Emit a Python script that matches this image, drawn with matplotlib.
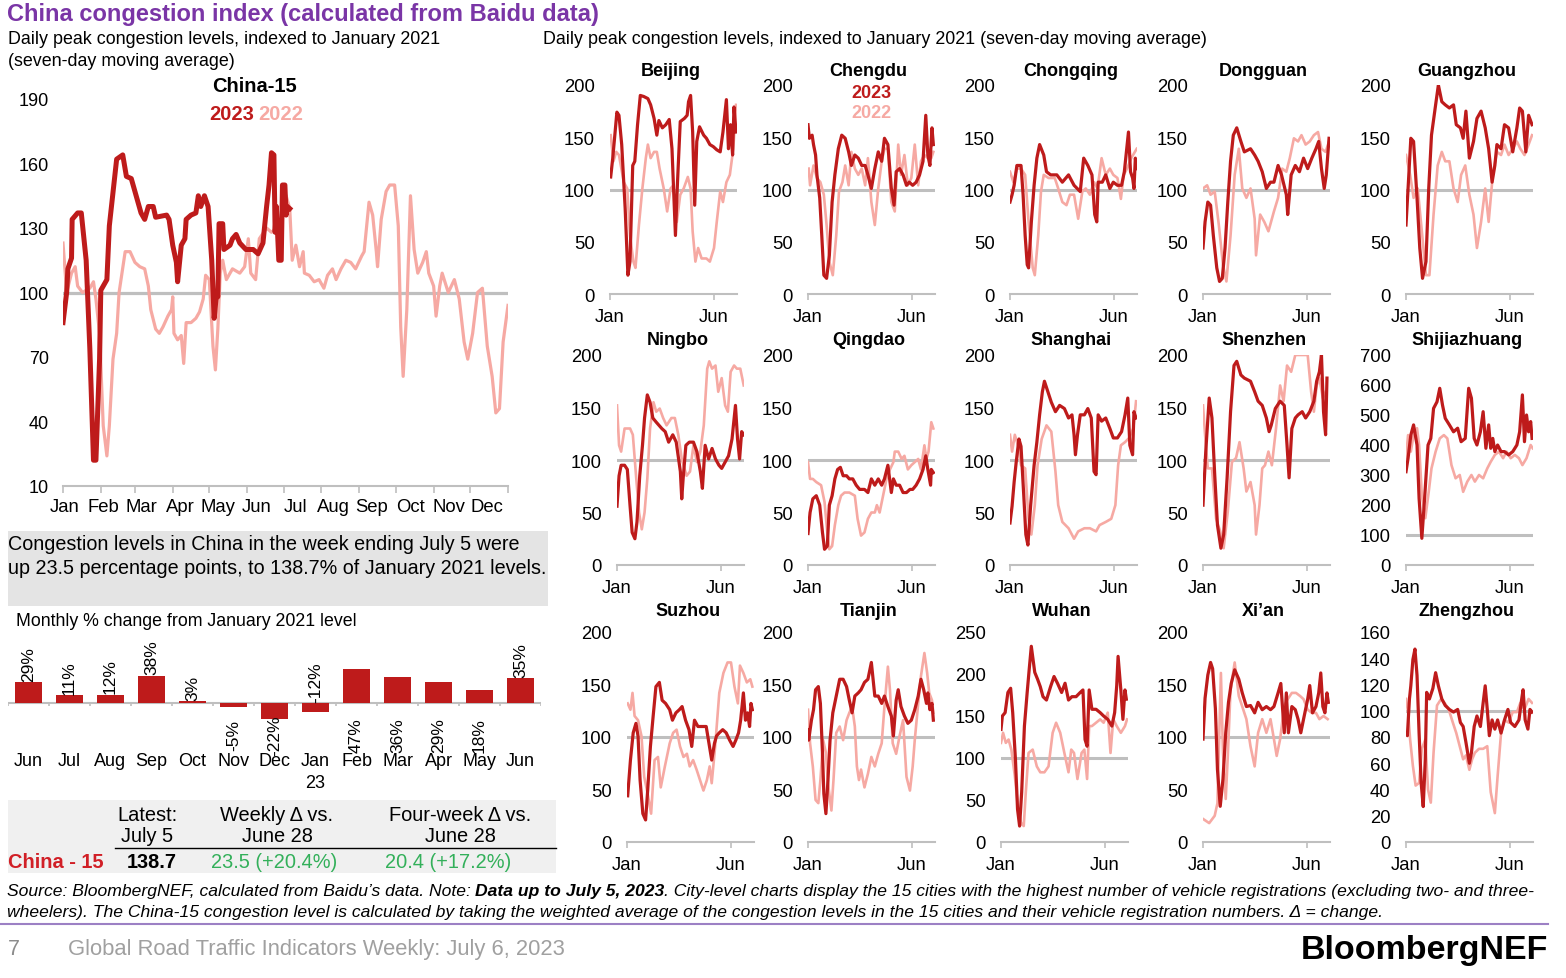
import numpy as np
import matplotlib.pyplot as plt
from matplotlib.patches import Rectangle
from matplotlib.lines import Line2D

plt.rcParams['font.family'] = ['Liberation Sans', 'DejaVu Sans']

DARK = '#BE1B1B'
PINK = '#F6A9A3'
GREY = '#BFBFBF'
PURPLE = '#7A35A6'
GREEN = '#33B05A'

W, H = 1566, 979

# ---------------- data: (day of year, index vs Jan 2021 = 100) ----------------
china15_2023 = [(0, 86), (3, 100), (4, 111), (7, 116), (7.5, 134), (12, 137), (15, 137), (19, 115), (22, 74),
                (25, 22), (27, 22), (30, 69), (31, 101), (36, 106), (38, 131), (44, 162), (49, 164), (52, 154),
                (56, 153), (60, 145), (64, 137), (67, 134), (70, 140), (74, 140), (76, 135), (85, 136), (87, 134),
                (90, 122), (93, 114), (94, 105), (97, 122), (100, 125), (101, 134), (105, 136), (109, 137),
                (111, 145), (113, 140), (116, 145), (119, 140), (122, 115), (124, 88), (126, 100), (127, 98),
                (128, 132), (131, 132), (132, 120), (137, 122), (139, 125), (142, 127), (145, 123), (150, 120),
                (156, 120), (160, 118), (164, 123), (167, 140), (169, 150), (171, 165), (173, 164), (174, 128),
                (175, 140), (177, 115), (179, 115), (180, 150), (182, 150), (183, 136), (184, 140), (186, 139)]
china15_2022 = [(0, 123), (3, 100), (7, 109), (10, 112), (12, 103), (16, 100), (22, 102), (25, 105), (27, 97),
                (30, 81), (33, 38), (36, 24), (38, 38), (41, 69), (44, 81), (46, 100), (51, 119), (55, 119),
                (59, 114), (63, 112), (67, 111), (70, 103), (72, 92), (76, 83), (79, 81), (82, 84), (86, 89),
                (89, 92), (90, 98), (91, 81), (94, 78), (97, 80), (99, 67), (101, 86), (105, 86), (109, 88),
                (112, 91), (115, 97), (117, 108), (120, 106), (123, 75), (125, 64), (127, 83), (129, 109),
                (131, 115), (134, 106), (139, 111), (145, 109), (149, 112), (152, 125), (154, 109), (158, 106),
                (161, 125), (167, 130), (171, 128), (175, 130), (179, 131), (183, 145), (186, 139), (188, 115),
                (191, 122), (194, 112), (197, 119), (198, 109), (202, 108), (206, 105), (210, 106), (214, 102),
                (217, 108), (221, 111), (224, 106), (228, 111), (232, 115), (236, 114), (240, 111), (245, 117),
                (247, 119), (251, 142), (254, 136), (257, 119), (258, 112), (261, 134), (265, 147), (268, 150),
                (272, 150), (275, 131), (277, 84), (279, 61), (282, 92), (285, 145), (288, 120), (291, 109),
                (295, 114), (298, 119), (300, 109), (304, 103), (306, 89), (309, 103), (311, 109), (316, 100),
                (321, 106), (325, 97), (329, 77), (332, 69), (336, 81), (340, 100), (344, 102), (348, 75),
                (352, 61), (355, 44), (358, 46), (361, 77), (365, 94)]

beijing_2023 = [(1, 112), (4, 130), (7, 152), (10, 174), (13, 171), (17, 143), (22, 82), (26, 18), (29, 31),
                (33, 123), (36, 127), (40, 162), (44, 190), (49, 189), (55, 187), (59, 181), (64, 168), (68, 152),
                (71, 166), (76, 159), (81, 162), (86, 167), (90, 139), (95, 56), (98, 107), (102, 165), (108, 168),
                (112, 171), (114, 184), (117, 190), (120, 155), (123, 85), (126, 146), (130, 160), (136, 152),
                (140, 149), (145, 143), (150, 141), (155, 138), (160, 136), (164, 155), (169, 186), (172, 139),
                (175, 162), (178, 133), (180, 179), (183, 155)]
beijing_2022 = [(1, 152), (5, 127), (9, 136), (13, 133), (20, 107), (25, 101), (29, 56), (34, 31), (37, 25),
                (42, 66), (47, 101), (52, 130), (55, 143), (59, 130), (64, 136), (68, 136), (72, 120), (78, 101),
                (83, 79), (88, 101), (92, 104), (97, 69), (102, 95), (107, 101), (113, 112), (117, 101), (120, 60),
                (124, 31), (128, 44), (133, 34), (140, 34), (145, 31), (151, 44), (155, 69), (160, 98), (164, 88),
                (169, 107), (174, 114), (179, 139), (183, 181)]

chengdu_2023 = [(0, 162), (2, 149), (6, 152), (8, 143), (11, 133), (13, 114), (17, 92), (20, 56), (23, 18),
                (27, 15), (31, 37), (35, 88), (39, 114), (44, 139), (49, 152), (54, 149), (59, 136), (63, 123),
                (68, 133), (73, 130), (78, 123), (83, 123), (87, 114), (92, 101), (97, 120), (102, 136), (107, 127),
                (111, 149), (116, 143), (121, 101), (125, 85), (128, 117), (133, 120), (138, 114), (143, 104),
                (147, 107), (152, 104), (157, 107), (162, 114), (167, 127), (171, 171), (174, 133), (177, 123),
                (180, 159), (182, 143)]
chengdu_2022 = [(1, 120), (3, 104), (8, 123), (13, 111), (18, 107), (23, 95), (27, 66), (31, 31), (36, 18),
                (41, 56), (45, 98), (50, 107), (54, 123), (59, 104), (63, 136), (68, 120), (73, 114), (78, 120),
                (83, 104), (87, 130), (92, 88), (97, 66), (102, 101), (107, 127), (111, 139), (116, 139), (121, 88),
                (126, 79), (131, 143), (135, 114), (140, 133), (145, 104), (150, 111), (155, 143), (160, 104),
                (164, 127), (169, 133), (174, 130), (179, 130), (182, 136)]

chongqing_2023 = [(0, 88), (3, 95), (6, 104), (10, 123), (16, 123), (19, 95), (22, 56), (25, 28), (27, 25),
                  (31, 69), (35, 104), (39, 130), (43, 143), (49, 133), (53, 117), (59, 114), (68, 114), (76, 107),
                  (85, 114), (93, 104), (102, 98), (107, 130), (113, 123), (119, 114), (123, 76), (126, 69),
                  (128, 107), (134, 107), (139, 114), (145, 101), (150, 107), (156, 104), (162, 104), (166, 117),
                  (172, 155), (175, 117), (178, 111), (180, 101), (182, 130), (184, 120)]
chongqing_2022 = [(0, 117), (5, 107), (10, 120), (16, 120), (22, 114), (27, 69), (33, 25), (36, 18), (41, 56),
                  (45, 98), (49, 114), (56, 111), (65, 111), (70, 101), (76, 88), (82, 85), (87, 95), (93, 95),
                  (99, 72), (105, 98), (110, 101), (116, 95), (122, 107), (127, 101), (133, 130), (139, 114),
                  (145, 120), (150, 114), (156, 111), (161, 91), (165, 114), (170, 120), (176, 130), (184, 139)]

dongguan_2023 = [(0, 44), (3, 69), (7, 88), (11, 85), (15, 56), (20, 25), (24, 12), (28, 15), (32, 44), (36, 88),
                 (40, 127), (44, 152), (49, 159), (55, 146), (60, 136), (69, 139), (75, 133), (80, 127), (86, 117),
                 (92, 101), (98, 107), (103, 107), (109, 123), (114, 114), (121, 95), (123, 76), (128, 114),
                 (134, 123), (140, 117), (146, 130), (152, 120), (158, 130), (164, 139), (168, 146), (172, 120),
                 (176, 101), (179, 114), (183, 149)]
dongguan_2022 = [(0, 101), (6, 104), (11, 95), (17, 98), (23, 66), (29, 28), (34, 12), (40, 56), (46, 114),
                 (52, 139), (57, 101), (63, 92), (69, 101), (75, 72), (77, 37), (83, 76), (89, 69), (95, 60),
                 (103, 79), (109, 92), (115, 120), (121, 117), (126, 130), (132, 149), (138, 146), (143, 152),
                 (149, 143), (155, 146), (161, 152), (167, 155), (172, 139), (178, 136), (183, 146)]

guangzhou_2023 = [(0, 66), (3, 101), (7, 149), (11, 146), (16, 92), (20, 44), (24, 15), (29, 31), (33, 101),
                  (37, 152), (43, 181), (47, 200), (52, 184), (57, 181), (63, 178), (69, 181), (73, 162), (79, 159),
                  (83, 149), (87, 175), (92, 130), (98, 146), (103, 168), (109, 175), (115, 159), (120, 139),
                  (125, 107), (129, 123), (132, 143), (138, 139), (143, 162), (149, 159), (155, 136), (161, 159),
                  (165, 178), (169, 175), (174, 136), (178, 171), (183, 162)]
guangzhou_2022 = [(0, 133), (6, 114), (11, 92), (17, 101), (23, 60), (29, 18), (34, 18), (40, 76), (46, 123),
                  (52, 136), (57, 127), (63, 127), (69, 101), (75, 88), (80, 114), (86, 123), (92, 95), (98, 76),
                  (103, 44), (109, 69), (115, 101), (120, 69), (126, 114), (132, 136), (138, 133), (143, 143),
                  (149, 133), (155, 139), (161, 146), (166, 139), (172, 133), (178, 143), (183, 152)]

ningbo_2023 = [(0, 56), (3, 85), (6, 95), (11, 95), (15, 91), (19, 56), (22, 31), (26, 25), (29, 41), (33, 85),
               (37, 114), (40, 140), (44, 162), (48, 155), (52, 140), (57, 136), (65, 130), (70, 127), (75, 117),
               (81, 124), (86, 117), (92, 89), (94, 63), (96, 82), (100, 114), (105, 117), (111, 117), (116, 108),
               (121, 89), (124, 73), (128, 114), (133, 101), (138, 111), (143, 101), (148, 95), (152, 92),
               (157, 98), (162, 104), (167, 120), (172, 152), (175, 120), (178, 101), (181, 127), (184, 124)]
ningbo_2022 = [(0, 152), (3, 114), (6, 108), (11, 130), (19, 130), (23, 124), (28, 82), (32, 50), (36, 34),
               (40, 50), (44, 82), (48, 130), (53, 155), (57, 146), (62, 149), (67, 140), (72, 133), (79, 140),
               (84, 140), (89, 124), (94, 101), (101, 85), (106, 89), (111, 114), (116, 98), (121, 108), (126, 133),
               (131, 187), (134, 194), (138, 187), (143, 190), (147, 165), (152, 178), (157, 152), (161, 146),
               (165, 184), (170, 190), (174, 187), (179, 187), (184, 171)]

qingdao_2023 = [(0, 30), (3, 50), (7, 63), (12, 66), (17, 57), (21, 31), (24, 15), (28, 18), (31, 57), (35, 66),
                (39, 82), (43, 91), (47, 93), (51, 85), (56, 85), (60, 82), (65, 82), (70, 76), (75, 72), (82, 72),
                (87, 69), (92, 82), (97, 76), (102, 82), (107, 76), (111, 82), (116, 95), (121, 69), (124, 82),
                (128, 76), (133, 76), (138, 69), (143, 69), (148, 72), (152, 72), (157, 76), (162, 82), (167, 91),
                (171, 104), (174, 91), (178, 76), (179, 91), (182, 88)]
qingdao_2022 = [(0, 98), (3, 82), (7, 82), (12, 79), (19, 76), (24, 60), (28, 31), (31, 15), (35, 18), (39, 38),
                (44, 57), (48, 66), (53, 69), (60, 69), (68, 66), (72, 44), (77, 28), (82, 31), (87, 44), (92, 50),
                (97, 50), (100, 57), (104, 50), (109, 66), (114, 82), (119, 91), (124, 98), (126, 108), (131, 108),
                (136, 101), (140, 104), (145, 91), (150, 95), (155, 98), (160, 101), (164, 91), (169, 114),
                (172, 101), (175, 108), (179, 136), (182, 130)]

shanghai_2023 = [(0, 40), (3, 56), (6, 79), (9, 98), (13, 120), (16, 113), (20, 66), (23, 29), (26, 19), (30, 57),
                 (35, 95), (39, 117), (43, 143), (47, 165), (50, 175), (54, 167), (60, 155), (66, 146), (72, 152),
                 (79, 149), (85, 140), (90, 143), (93, 124), (95, 105), (98, 124), (102, 143), (108, 143),
                 (113, 149), (118, 140), (122, 89), (125, 86), (128, 143), (133, 137), (139, 140), (145, 130),
                 (150, 121), (156, 121), (162, 127), (167, 143), (171, 159), (174, 114), (178, 105), (180, 146),
                 (183, 140)]
shanghai_2022 = [(0, 124), (3, 108), (7, 124), (12, 113), (16, 95), (22, 92), (27, 44), (31, 29), (36, 57),
                 (40, 95), (46, 120), (53, 133), (60, 127), (66, 89), (70, 57), (76, 41), (85, 35), (93, 25),
                 (99, 32), (108, 35), (116, 35), (125, 32), (130, 38), (139, 41), (147, 44), (153, 57), (157, 95),
                 (161, 114), (167, 117), (173, 121), (179, 130), (183, 156)]

shenzhen_2023 = [(0, 57), (4, 108), (9, 159), (13, 140), (17, 86), (21, 38), (26, 16), (30, 29), (35, 83),
                 (40, 146), (45, 190), (49, 194), (55, 181), (60, 178), (69, 175), (75, 165), (80, 156), (86, 152),
                 (92, 140), (96, 127), (99, 133), (105, 149), (112, 156), (118, 152), (122, 114), (125, 83),
                 (129, 130), (134, 140), (138, 143), (144, 146), (149, 140), (155, 146), (161, 156), (165, 175),
                 (169, 184), (172, 200), (175, 146), (178, 124), (180, 178)]
shenzhen_2022 = [(0, 152), (3, 124), (7, 92), (13, 92), (19, 44), (25, 32), (30, 16), (36, 51), (42, 98),
                 (48, 102), (53, 117), (59, 92), (63, 70), (69, 79), (75, 57), (77, 29), (82, 57), (86, 92),
                 (90, 95), (95, 108), (100, 95), (106, 130), (112, 171), (117, 156), (122, 190), (128, 184),
                 (134, 200), (144, 200), (152, 200), (157, 165), (161, 146), (165, 171), (169, 178), (174, 159),
                 (178, 165)]

shijiazhuang_2023 = [(0, 311), (3, 356), (7, 433), (11, 467), (16, 400), (19, 222), (23, 89), (27, 222),
                     (32, 400), (36, 422), (40, 522), (45, 544), (49, 589), (53, 533), (57, 489), (63, 467),
                     (69, 444), (75, 456), (80, 411), (86, 422), (91, 589), (95, 556), (99, 422), (103, 400),
                     (108, 444), (112, 511), (116, 389), (120, 467), (123, 389), (126, 422), (129, 378), (133, 400),
                     (138, 378), (143, 378), (149, 367), (155, 378), (161, 400), (165, 444), (169, 567), (172, 411),
                     (175, 500), (178, 444), (181, 478), (183, 422)]
shijiazhuang_2022 = [(0, 356), (3, 433), (7, 378), (11, 433), (16, 456), (19, 400), (23, 233), (28, 156),
                     (33, 244), (37, 322), (43, 378), (49, 422), (55, 433), (60, 422), (66, 333), (72, 289),
                     (78, 300), (83, 244), (89, 278), (95, 300), (100, 278), (106, 300), (112, 289), (118, 322),
                     (123, 344), (129, 367), (135, 378), (141, 356), (146, 378), (152, 356), (158, 367), (164, 356),
                     (169, 333), (175, 356), (181, 400), (184, 389)]

suzhou_2023 = [(1, 44), (5, 78), (9, 104), (13, 113), (16, 101), (19, 59), (23, 27), (27, 21), (30, 49), (34, 91),
               (38, 120), (42, 148), (47, 152), (51, 135), (56, 132), (62, 126), (66, 116), (71, 123), (76, 126),
               (80, 129), (85, 116), (90, 107), (94, 91), (98, 116), (103, 110), (110, 110), (115, 110), (119, 94),
               (123, 78), (127, 94), (130, 101), (134, 104), (139, 107), (144, 104), (149, 97), (154, 91),
               (158, 97), (162, 104), (165, 116), (169, 142), (172, 116), (175, 123), (178, 110), (180, 132),
               (182, 126)]
suzhou_2022 = [(1, 132), (5, 126), (8, 142), (11, 120), (16, 116), (21, 101), (25, 62), (30, 46), (35, 27),
               (40, 78), (45, 81), (49, 52), (55, 72), (62, 94), (67, 104), (72, 107), (77, 91), (82, 81), (87, 84),
               (91, 72), (96, 78), (101, 69), (106, 59), (111, 49), (116, 59), (120, 72), (123, 56), (128, 91),
               (134, 142), (140, 161), (146, 171), (151, 171), (156, 148), (161, 132), (164, 168), (169, 161),
               (174, 152), (179, 155), (182, 148)]

tianjin_2023 = [(0, 107), (1, 97), (5, 116), (8, 126), (11, 145), (15, 148), (18, 132), (21, 85), (23, 46),
                (26, 27), (29, 59), (32, 97), (36, 123), (41, 139), (46, 155), (51, 155), (56, 148), (60, 135),
                (64, 123), (68, 139), (73, 142), (77, 145), (82, 152), (87, 155), (92, 171), (97, 139), (102, 139),
                (107, 132), (111, 139), (116, 129), (121, 120), (124, 101), (128, 135), (131, 145), (135, 129),
                (140, 120), (145, 113), (150, 116), (155, 126), (160, 139), (164, 155), (168, 145), (172, 132),
                (174, 142), (177, 126), (180, 132), (182, 116)]
tianjin_2022 = [(0, 126), (3, 94), (7, 72), (11, 40), (15, 37), (18, 59), (22, 97), (26, 85), (29, 56), (34, 30),
                (37, 59), (41, 104), (46, 110), (51, 97), (56, 116), (60, 123), (64, 129), (68, 110), (71, 72),
                (74, 59), (77, 69), (82, 52), (87, 65), (92, 81), (97, 72), (102, 84), (107, 94), (111, 129),
                (116, 167), (119, 145), (123, 94), (128, 84), (133, 101), (138, 116), (143, 62), (148, 49),
                (152, 72), (155, 97), (160, 132), (164, 158), (169, 180), (173, 161), (176, 142), (180, 135),
                (182, 123)]

wuhan_2023 = [(0, 134), (2, 150), (6, 154), (10, 178), (14, 183), (17, 154), (21, 98), (24, 39), (27, 19),
              (30, 59), (34, 138), (38, 178), (41, 206), (44, 233), (49, 202), (53, 194), (57, 185), (61, 173),
              (66, 169), (72, 185), (77, 197), (82, 189), (88, 178), (93, 189), (98, 169), (103, 173), (109, 173),
              (115, 178), (119, 181), (122, 122), (125, 114), (128, 181), (132, 158), (138, 158), (144, 154),
              (149, 150), (155, 146), (161, 138), (165, 154), (168, 186), (170, 221), (174, 181), (177, 146),
              (180, 181), (182, 170)]
wuhan_2022 = [(0, 118), (3, 130), (7, 118), (11, 122), (15, 110), (20, 79), (25, 39), (29, 23), (33, 19), (36, 59),
              (40, 106), (46, 110), (52, 90), (57, 83), (63, 83), (69, 90), (75, 130), (80, 142), (86, 130),
              (92, 106), (98, 83), (102, 110), (106, 106), (111, 75), (117, 106), (121, 110), (125, 75),
              (128, 138), (132, 138), (138, 142), (144, 146), (149, 142), (155, 154), (159, 106), (163, 146),
              (168, 138), (174, 130), (180, 138), (183, 146)]

xian_2023 = [(0, 98), (3, 137), (7, 159), (11, 171), (14, 165), (18, 127), (21, 69), (25, 34), (29, 60), (33, 104),
             (37, 133), (41, 151), (46, 164), (52, 155), (57, 142), (63, 129), (69, 130), (75, 123), (80, 133),
             (86, 126), (92, 129), (98, 126), (103, 129), (109, 142), (113, 151), (118, 104), (121, 142),
             (124, 104), (129, 129), (134, 126), (138, 117), (142, 104), (146, 117), (152, 136), (155, 149),
             (159, 123), (164, 129), (168, 142), (171, 161), (174, 129), (177, 123), (180, 142), (182, 133)]
xian_2022 = [(0, 22), (9, 18), (17, 25), (21, 37), (26, 161), (29, 85), (33, 41), (36, 82), (40, 145), (46, 171),
             (52, 139), (57, 129), (63, 117), (69, 91), (75, 72), (80, 104), (86, 117), (92, 104), (98, 117),
             (103, 98), (107, 82), (112, 98), (118, 130), (123, 136), (129, 142), (135, 142), (141, 139),
             (146, 136), (152, 126), (158, 123), (164, 123), (169, 117), (175, 120), (181, 117)]

zhengzhou_2023 = [(0, 83), (2, 81), (5, 109), (7, 119), (10, 139), (13, 147), (16, 127), (19, 83), (22, 45),
                  (25, 27), (28, 63), (30, 114), (34, 109), (39, 117), (43, 129), (47, 119), (52, 109), (57, 104),
                  (63, 101), (69, 99), (75, 101), (79, 91), (83, 88), (87, 76), (92, 60), (95, 68), (99, 88),
                  (103, 96), (108, 88), (112, 106), (115, 119), (118, 101), (121, 81), (125, 93), (129, 86),
                  (133, 93), (138, 83), (143, 93), (148, 101), (152, 91), (158, 88), (164, 93), (168, 109),
                  (170, 116), (173, 93), (177, 86), (180, 101), (183, 99)]
zhengzhou_2022 = [(0, 109), (3, 99), (6, 78), (10, 58), (14, 43), (19, 45), (23, 71), (28, 78), (32, 40), (36, 30),
                  (40, 68), (45, 104), (51, 109), (56, 106), (62, 101), (68, 91), (73, 83), (79, 71), (83, 63),
                  (87, 66), (92, 55), (96, 63), (100, 68), (106, 71), (112, 71), (118, 73), (123, 38), (129, 22),
                  (133, 50), (138, 83), (143, 93), (149, 91), (155, 99), (161, 99), (166, 106), (172, 101),
                  (178, 109), (183, 106)]

cities = ['Beijing', 'Chengdu', 'Chongqing', 'Dongguan', 'Guangzhou',
          'Ningbo', 'Qingdao', 'Shanghai', 'Shenzhen', 'Shijiazhuang',
          'Suzhou', 'Tianjin', 'Wuhan', 'Xi\u2019an', 'Zhengzhou']
series_2023 = [beijing_2023, chengdu_2023, chongqing_2023, dongguan_2023, guangzhou_2023,
               ningbo_2023, qingdao_2023, shanghai_2023, shenzhen_2023, shijiazhuang_2023,
               suzhou_2023, tianjin_2023, wuhan_2023, xian_2023, zhengzhou_2023]
series_2022 = [beijing_2022, chengdu_2022, chongqing_2022, dongguan_2022, guangzhou_2022,
               ningbo_2022, qingdao_2022, shanghai_2022, shenzhen_2022, shijiazhuang_2022,
               suzhou_2022, tianjin_2022, wuhan_2022, xian_2022, zhengzhou_2022]
y_max = [200, 200, 200, 200, 200, 200, 200, 200, 200, 700, 200, 200, 250, 200, 160]
y_step = [50, 50, 50, 50, 50, 50, 50, 50, 50, 100, 50, 50, 50, 50, 20]

months = ['Jan', 'Feb', 'Mar', 'Apr', 'May', 'Jun', 'Jul', 'Aug', 'Sep', 'Oct', 'Nov', 'Dec']
month_start = [0, 31, 59, 90, 120, 151, 181, 212, 243, 273, 304, 334, 365]

bar_months = ['Jun', 'Jul', 'Aug', 'Sep', 'Oct', 'Nov', 'Dec', 'Jan\n23', 'Feb', 'Mar', 'Apr', 'May', 'Jun']
bar_change = [29, 11, 12, 38, 3, -5, -22, -12, 47, 36, 29, 18, 35]
bar_label_below = [False, False, False, False, False, True, True, False, True, True, True, True, False]

table_header = ['Latest:\nJuly 5', 'Weekly \u0394 vs.\nJune 28', 'Four-week \u0394 vs.\nJune 28']
table_row = ['China - 15', '138.7', '23.5 (+20.4%)', '20.4 (+17.2%)']

# ---------------- figure ----------------
fig = plt.figure(figsize=(W / 100, H / 100), dpi=100)


def box(x0, y0, x1, y1):
    return [x0 / W, 1 - y1 / H, (x1 - x0) / W, (y1 - y0) / H]


def ftext(x, y, s, **kw):
    kw.setdefault('va', 'center')
    return fig.text(x / W, 1 - y / H, s, **kw)


def frect(x0, y0, x1, y1, color):
    fig.add_artist(Rectangle((x0 / W, 1 - y1 / H), (x1 - x0) / W, (y1 - y0) / H,
                             transform=fig.transFigure, color=color, zorder=0, lw=0))


# titles
ftext(7, 14, 'China congestion index (calculated from Baidu data)', fontsize=17, weight='bold', color=PURPLE)
ftext(8, 40, 'Daily peak congestion levels, indexed to January 2021', fontsize=12.9)
ftext(8, 61, '(seven-day moving average)', fontsize=12.9)
ftext(543, 40, 'Daily peak congestion levels, indexed to January 2021 (seven-day moving average)', fontsize=12.9)

# ---- main China-15 chart ----
ax = fig.add_axes(box(63, 100, 508, 487))
ax.axhline(100, color=GREY, lw=2.3, zorder=1)
d, v = zip(*china15_2022)
ax.plot(d, v, color=PINK, lw=2.3, zorder=2)
d, v = zip(*china15_2023)
ax.plot(d, v, color=DARK, lw=3.6, zorder=3)
ax.set_xlim(0, 365)
ax.set_ylim(10, 190)
ax.set_yticks(range(10, 191, 30))
for s in ['top', 'right', 'left']:
    ax.spines[s].set_visible(False)
ax.spines['bottom'].set_color(GREY)
ax.spines['bottom'].set_linewidth(1.5)
ax.set_xticks(month_start)
ax.set_xticklabels([])
ax.tick_params(axis='x', direction='out', length=5, width=1.2, color=GREY)
ax.tick_params(axis='y', length=0, pad=10, labelsize=13)
label_pos = np.linspace(1.6, 347.8, 12)
for p, m in zip(label_pos, months):
    ax.text(p, -0.052, m, transform=ax.get_xaxis_transform(), ha='center', va='center', fontsize=13.3)
ax.patch.set_alpha(0)
ftext(255, 87, 'China-15', fontsize=14.5, weight='bold', ha='center')
ftext(254, 114, '2023', fontsize=14.5, weight='bold', ha='right', color=DARK)
ftext(258, 114, '2022', fontsize=14.5, weight='bold', ha='left', color=PINK)

# ---- comment box ----
frect(8, 532, 548, 607, '#E4E4E4')
ftext(8, 545, 'Congestion levels in China in the week ending July 5 were', fontsize=14.2)
ftext(8, 569, 'up 23.5 percentage points, to 138.7% of January 2021 levels.', fontsize=14.2)

# ---- monthly bar chart ----
ftext(16, 621, 'Monthly % change from January 2021 level', fontsize=12.8)
bx = fig.add_axes(box(8, 654, 541, 750))
xs = np.arange(len(bar_change))
bx.bar(xs, bar_change, width=0.66, color=DARK, zorder=2)
bx.axhline(0, color=GREY, lw=1.5, zorder=1)
bx.vlines(np.arange(-0.5, len(bar_change)), -4, 0, color=GREY, lw=1.2)
bx.set_xlim(-0.5, len(bar_change) - 0.5)
bx.set_ylim(-64, 70)
for s in bx.spines.values():
    s.set_visible(False)
bx.set_yticks([])
bx.set_xticks(xs)
bx.set_xticklabels(bar_months, fontsize=13, linespacing=1.4, va='top')
bx.tick_params(axis='x', length=0, pad=2)
for x, val, below in zip(xs, bar_change, bar_label_below):
    if below:
        bx.text(x, -44, f'{val}%', rotation=90, ha='center', va='center', fontsize=12.5)
    else:
        bx.text(x, max(val, 0) + 2, f'{val}%', rotation=90, ha='center', va='bottom', fontsize=12.5)
bx.patch.set_alpha(0)

# ---- table ----
frect(8, 801, 556, 874, '#F0F0F0')
fig.add_artist(Line2D([115 / W, 556 / W], [1 - 849 / H, 1 - 849 / H], transform=fig.transFigure,
                      color='black', lw=1))
for cx, txt in zip([147, 277, 460], table_header):
    ftext(cx, 826, txt, fontsize=14.4, ha='center', linespacing=1.15)
ftext(8, 863, table_row[0], fontsize=14.4, weight='bold', color='#D11F26')
ftext(152, 863, table_row[1], fontsize=14.4, weight='bold', ha='center')
ftext(274, 863, table_row[2], fontsize=14.4, ha='center', color=GREEN)
ftext(448, 863, table_row[3], fontsize=14.4, ha='center', color=GREEN)

# ---- city small multiples ----
row_jan = [[610, 808, 1010, 1203, 1406],
           [617, 808, 1010, 1203, 1406],
           [627, 808, 1001, 1203, 1406]]
row_top = [86, 356, 633]
row_bot = [295, 566, 843]
row_title = [71, 341, 612]
ppd = 104 / 151  # pixels per day

for i, city in enumerate(cities):
    r, c = divmod(i, 5)
    x0 = row_jan[r][c]
    x1 = x0 + 185 * ppd
    a = fig.add_axes(box(x0, row_top[r], x1, row_bot[r]))
    a.axhline(100, color=GREY, lw=2.2, zorder=1)
    d, v = zip(*series_2022[i])
    a.plot(d, v, color=PINK, lw=1.9, zorder=2)
    d, v = zip(*series_2023[i])
    a.plot(d, v, color=DARK, lw=2.3, zorder=3)
    a.set_xlim(0, 185)
    a.set_ylim(0, y_max[i])
    a.set_yticks(range(0, y_max[i] + 1, y_step[i]))
    a.set_xticks([0, 151])
    a.set_xticklabels(['Jan', 'Jun'])
    for s in ['top', 'right', 'left']:
        a.spines[s].set_visible(False)
    a.spines['bottom'].set_color(GREY)
    a.spines['bottom'].set_linewidth(1.5)
    a.tick_params(axis='x', direction='out', length=4, width=1.2, color=GREY, pad=6, labelsize=13.3)
    a.tick_params(axis='y', length=0, pad=11, labelsize=13.3)
    a.patch.set_alpha(0)
    ftext((x0 + x1) / 2 - 3, row_title[r], city, fontsize=13, weight='bold', ha='center')
    if city == 'Chengdu':
        ftext((x0 + x1) / 2, 93, '2023', fontsize=13, weight='bold', ha='center', color=DARK)
        ftext((x0 + x1) / 2, 114, '2022', fontsize=13, weight='bold', ha='center', color=PINK)

# ---- footer ----
renderer = fig.canvas.get_renderer()


def seq_text(x, y, parts, **kw):
    for s, extra, gap in parts:
        t = ftext(x, y, s, **kw, **extra)
        bb = t.get_window_extent(renderer=renderer)
        x = bb.x1 + gap


fn = dict(fontsize=12.6, style='italic')
seq_text(7, 892, [('Source: BloombergNEF, calculated from Baidu\u2019s data. Note:', {}, 4),
                  ('Data up to July 5, 2023', {'weight': 'bold'}, 0),
                  ('. City-level charts display the 15 cities with the highest number of vehicle registrations '
                   '(excluding two- and three-', {}, 0)], **fn)
ftext(7, 913, 'wheelers). The China-15 congestion level is calculated by taking the weighted average of the '
      'congestion levels in the 15 cities and their vehicle registration numbers. \u0394 = change.', **fn)
fig.add_artist(Line2D([0, 1548 / W], [1 - 925 / H, 1 - 925 / H], transform=fig.transFigure,
                      color='#9C80C4', lw=1.5))
ftext(8, 950, '7', fontsize=15.5, color='#8C8C8C')
ftext(68, 950, 'Global Road Traffic Indicators Weekly: July 6, 2023', fontsize=15.8, color='#A0A0A0')
ftext(1548, 951, 'BloombergNEF', fontsize=24.5, weight='bold', ha='right', color='black')

fig.savefig('out.png', dpi=100)
